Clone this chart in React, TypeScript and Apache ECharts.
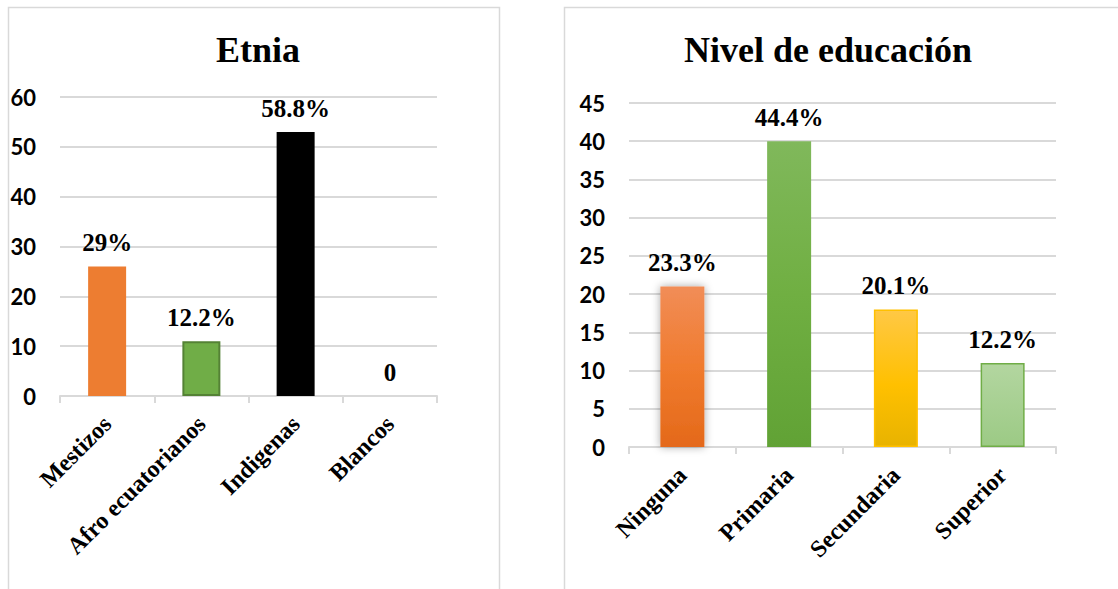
import React, { useEffect, useRef } from "react";
import * as echarts from "echarts";

const etniaTitle = "Etnia";
const etniaCategories = ["Mestizos", "Afro ecuatorianos", "Indigenas", "Blancos"];
const etniaValues = [26, 11, 53, 0];
const etniaLabels = ["29%", "12.2%", "58.8%", "0"];
const etniaAxis = { min: 0, max: 60, interval: 10 };

const educTitle = "Nivel de educación";
const educCategories = ["Ninguna", "Primaria", "Secundaria", "Superior"];
const educValues = [21, 40, 18, 11];
const educLabels = ["23.3%", "44.4%", "20.1%", "12.2%"];
const educAxis = { min: 0, max: 45, interval: 5 };

const SERIF = "'Liberation Serif', 'Times New Roman', serif";
const SANS = "Lato, 'Noto Sans', sans-serif";

const grad = (stops: [number, string][]) =>
  new echarts.graphic.LinearGradient(0, 0, 0, 1, stops.map(([offset, color]) => ({ offset, color })));

export default function App() {
  const ref = useRef<HTMLDivElement>(null);
  useEffect(() => {
    if (!ref.current) return;
    const chart = echarts.init(ref.current, null, { renderer: "svg" });

    const etniaStyles = [
      { color: "#ED7D31" },
      { color: "#70AD47", borderColor: "#548235", borderWidth: 2 },
      { color: "#000000" },
      { color: "#A5A5A5" },
    ];
    const educStyles = [
      {
        color: grad([[0, "#F18D57"], [0.5, "#F07B2E"], [1, "#E4691A"]]),
        shadowBlur: 8,
        shadowColor: "rgba(0,0,0,0.35)",
      },
      { color: grad([[0, "#80B85B"], [0.5, "#70AF42"], [1, "#61A235"]]) },
      {
        color: grad([[0, "#FFC845"], [0.55, "#FFC000"], [1, "#E8B300"]]),
        borderColor: "#FFC000",
        borderWidth: 1.5,
      },
      {
        color: grad([[0, "#B3D6A0"], [1, "#9CCA85"]]),
        borderColor: "#70AD47",
        borderWidth: 1.5,
      },
    ];

    const axisLabelY = { color: "#000", fontFamily: SANS, fontWeight: "bold" as const, fontSize: 22, margin: 24 };
    const axisLabelX = {
      color: "#000",
      fontFamily: SERIF,
      fontWeight: "bold" as const,
      fontSize: 24,
      rotate: 45,
      margin: 24,
      interval: 0,
    };
    const splitLine = { show: true, lineStyle: { color: "#D9D9D9", width: 2 } };
    const xLine = { show: true, lineStyle: { color: "#D9D9D9", width: 2 } };
    const xTick = { show: true, length: 7, lineStyle: { color: "#D9D9D9", width: 2 } };
    const labelStyle = {
      show: true,
      position: "top" as const,
      distance: 11,
      color: "#000",
      fontFamily: SERIF,
      fontWeight: "bold" as const,
      fontSize: 25,
    };
    const titleStyle = { fontFamily: SERIF, fontWeight: "bold" as const, fontSize: 36, color: "#000" };

    chart.setOption({
      animation: false,
      backgroundColor: "#fff",
      title: [
        { text: etniaTitle, left: 253, textAlign: "center", top: 27, textStyle: titleStyle },
        { text: educTitle, left: 823, textAlign: "center", top: 27, textStyle: titleStyle },
      ],
      graphic: [
        {
          type: "rect",
          shape: { x: 8.5, y: 7.5, width: 491, height: 620 },
          style: { fill: "none", stroke: "#D9D9D9", lineWidth: 1.5 },
          silent: true,
        },
        {
          type: "rect",
          shape: { x: 564.5, y: 7.5, width: 620, height: 620 },
          style: { fill: "none", stroke: "#D9D9D9", lineWidth: 1.5 },
          silent: true,
        },
      ],
      grid: [
        { left: 60, right: 1118 - 437, top: 97, bottom: 589 - 396, containLabel: false },
        { left: 629, right: 1118 - 1056, top: 103, bottom: 589 - 447, containLabel: false },
      ],
      xAxis: [
        {
          type: "category",
          gridIndex: 0,
          data: etniaCategories,
          axisLine: xLine,
          axisTick: xTick,
          axisLabel: axisLabelX,
        },
        {
          type: "category",
          gridIndex: 1,
          data: educCategories,
          axisLine: xLine,
          axisTick: xTick,
          axisLabel: axisLabelX,
        },
      ],
      yAxis: [
        {
          type: "value",
          gridIndex: 0,
          ...etniaAxis,
          axisLine: { show: false },
          axisTick: { show: false },
          axisLabel: axisLabelY,
          splitLine,
        },
        {
          type: "value",
          gridIndex: 1,
          ...educAxis,
          axisLine: { show: false },
          axisTick: { show: false },
          axisLabel: axisLabelY,
          splitLine,
        },
      ],
      series: [
        {
          type: "bar",
          xAxisIndex: 0,
          yAxisIndex: 0,
          barWidth: 38,
          data: etniaValues.map((v, i) => ({ value: v, itemStyle: etniaStyles[i] })),
          label: { ...labelStyle, formatter: (p: any) => etniaLabels[p.dataIndex] },
        },
        {
          type: "bar",
          xAxisIndex: 1,
          yAxisIndex: 1,
          barWidth: 44,
          data: educValues.map((v, i) => ({ value: v, itemStyle: educStyles[i] })),
          label: { ...labelStyle, formatter: (p: any) => educLabels[p.dataIndex] },
        },
      ],
    });
    return () => chart.dispose();
  }, []);

  return (
    <div
      ref={ref}
      style={{ position: "fixed", left: 0, top: 0, width: 1118, height: 589, background: "#fff" }}
    />
  );
}
